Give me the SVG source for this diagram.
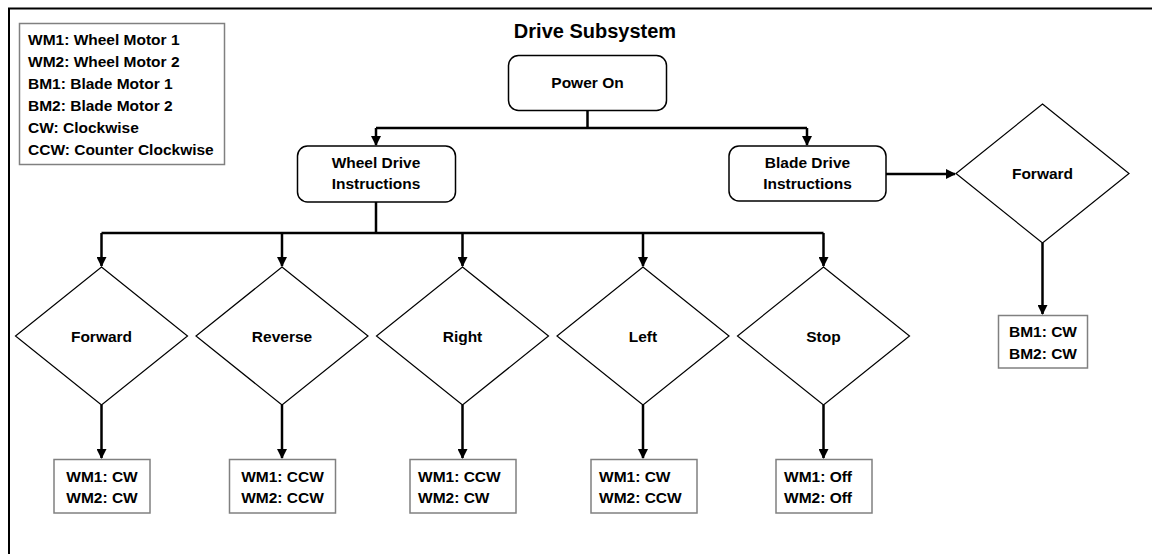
<svg xmlns="http://www.w3.org/2000/svg" width="1152" height="554" viewBox="0 0 1152 554">
<style>
text{font-family:"Liberation Sans",Arial,sans-serif;font-weight:bold;font-size:15.5px;fill:#000}
.c{text-anchor:middle}
.rr{fill:#fff;stroke:#000;stroke-width:1.5}
.dia{fill:#fff;stroke:#000;stroke-width:1.2}
.box{fill:#fff;stroke:#808080;stroke-width:1.5}
.con{fill:none;stroke:#000;stroke-width:2.5}
</style>
<defs>
<marker id="ah" viewBox="0 0 10 10" refX="9" refY="5" markerWidth="4" markerHeight="4" orient="auto" markerUnits="strokeWidth">
<path d="M0,0 L10,5 L0,10 z" fill="#000"/>
</marker>
</defs>
<rect width="1152" height="554" fill="#fff"/>
<path d="M9,554 V8.5 H1152" fill="none" stroke="#000" stroke-width="2"/>
<g id="legend">
<rect class="box" x="19.5" y="23.5" width="205" height="141"/>
<text x="28" y="45">WM1: Wheel Motor 1</text>
<text x="28" y="67">WM2: Wheel Motor 2</text>
<text x="28" y="88.5">BM1: Blade Motor 1</text>
<text x="28" y="110.5">BM2: Blade Motor 2</text>
<text x="28" y="132.5">CW: Clockwise</text>
<text x="28" y="154.5">CCW: Counter Clockwise</text>
</g>
<text id="title" class="c" x="595" y="38" style="font-size:20px">Drive Subsystem</text>
<g id="connectors">
<path class="con" d="M587.5,110 V128 M376,128 H807"/>
<path class="con" d="M376,128 V145" marker-end="url(#ah)"/>
<path class="con" d="M807,128 V145" marker-end="url(#ah)"/>
<path class="con" d="M886,174 H955" marker-end="url(#ah)"/>
<path class="con" d="M1042.5,243 V314" marker-end="url(#ah)"/>
<path class="con" d="M376,202 V233 M101.5,233 H823.5"/>
<path class="con" d="M101.5,233 V266" marker-end="url(#ah)"/>
<path class="con" d="M282,233 V266" marker-end="url(#ah)"/>
<path class="con" d="M462.5,233 V266" marker-end="url(#ah)"/>
<path class="con" d="M643,233 V266" marker-end="url(#ah)"/>
<path class="con" d="M823.5,233 V266" marker-end="url(#ah)"/>
<path class="con" d="M101.5,405 V458" marker-end="url(#ah)"/>
<path class="con" d="M282,405 V458" marker-end="url(#ah)"/>
<path class="con" d="M462.5,405 V458" marker-end="url(#ah)"/>
<path class="con" d="M643,405 V458" marker-end="url(#ah)"/>
<path class="con" d="M823.5,405 V458" marker-end="url(#ah)"/>
</g>
<g id="power-on">
<rect class="rr" x="508.5" y="55.5" width="158" height="55" rx="10"/>
<text class="c" x="587.5" y="88">Power On</text>
</g>
<g id="wheel-drive">
<rect class="rr" x="297.5" y="146" width="158" height="56" rx="10"/>
<text class="c" x="376" y="168">Wheel Drive</text>
<text class="c" x="376" y="189">Instructions</text>
</g>
<g id="blade-drive">
<rect class="rr" x="729" y="146" width="157" height="55" rx="10"/>
<text class="c" x="807.5" y="168">Blade Drive</text>
<text class="c" x="807.5" y="189">Instructions</text>
</g>
<g id="blade-forward">
<polygon class="dia" points="1042.5,104 1129,173.5 1042.5,243 956,173.5"/>
<text class="c" x="1042.5" y="179">Forward</text>
</g>
<g id="blade-result">
<rect class="box" x="998.5" y="315.5" width="89" height="52.5"/>
<text class="c" x="1043" y="337">BM1: CW</text>
<text class="c" x="1043" y="358.5">BM2: CW</text>
</g>
<g id="forward">
<polygon class="dia" points="101.5,267 187.5,336 101.5,405 15.5,336"/>
<text class="c" x="101.5" y="341.5">Forward</text>
</g>
<g id="reverse">
<polygon class="dia" points="282,267 368,336 282,405 196,336"/>
<text class="c" x="282" y="341.5">Reverse</text>
</g>
<g id="right">
<polygon class="dia" points="462.5,267 548.5,336 462.5,405 376.5,336"/>
<text class="c" x="462.5" y="341.5">Right</text>
</g>
<g id="left">
<polygon class="dia" points="643,267 729,336 643,405 557,336"/>
<text class="c" x="643" y="341.5">Left</text>
</g>
<g id="stop">
<polygon class="dia" points="823.5,267 909.5,336 823.5,405 737.5,336"/>
<text class="c" x="823.5" y="341.5">Stop</text>
</g>
<g id="forward-result">
<rect class="box" x="54" y="459.5" width="96" height="53.5"/>
<text class="c" x="102" y="481.5">WM1: CW</text>
<text class="c" x="102" y="503">WM2: CW</text>
</g>
<g id="reverse-result">
<rect class="box" x="229.5" y="459.5" width="106" height="53.5"/>
<text class="c" x="282.5" y="481.5">WM1: CCW</text>
<text class="c" x="282.5" y="503">WM2: CCW</text>
</g>
<g id="right-result">
<rect class="box" x="410" y="459.5" width="106" height="53.5"/>
<text x="418" y="481.5">WM1: CCW</text>
<text x="418" y="503">WM2: CW</text>
</g>
<g id="left-result">
<rect class="box" x="591" y="459.5" width="106" height="53.5"/>
<text x="599" y="481.5">WM1: CW</text>
<text x="599" y="503">WM2: CCW</text>
</g>
<g id="stop-result">
<rect class="box" x="776" y="459.5" width="96" height="53.5"/>
<text x="784" y="481.5">WM1: Off</text>
<text x="784" y="503">WM2: Off</text>
</g>
</svg>
